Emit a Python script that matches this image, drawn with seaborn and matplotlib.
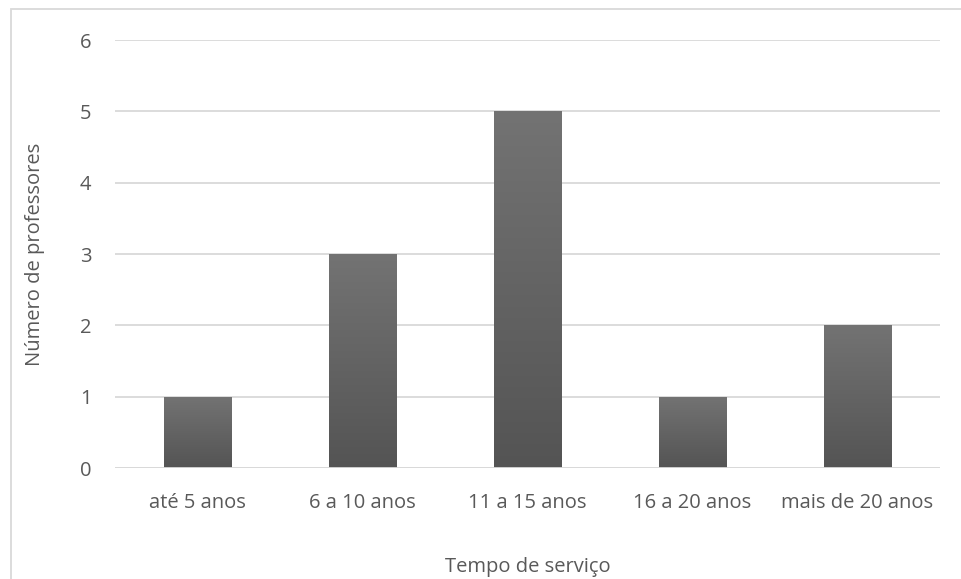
import numpy as np
import pandas as pd
import matplotlib
matplotlib.use("Agg")
import matplotlib.pyplot as plt
from matplotlib.colors import LinearSegmentedColormap
from matplotlib.patches import Rectangle
import seaborn as sns

categorias = ["até 5 anos", "6 a 10 anos", "11 a 15 anos", "16 a 20 anos", "mais de 20 anos"]
professores = [1, 3, 5, 1, 2]
yticks = [0, 1, 2, 3, 4, 5, 6]

df = pd.DataFrame({"Tempo de serviço": categorias, "Número de professores": professores})

sns.set_theme(style="white")
plt.rcParams["font.family"] = ["Open Sans", "DejaVu Sans"]

text_color = "#595959"
grid_color = "#d9d9d9"
fs = 14.5

fig = plt.figure(figsize=(9.61, 5.79), dpi=100)
ax = fig.add_axes([115 / 961, 111 / 579, 825 / 961, 428 / 579])

sns.barplot(data=df, x="Tempo de serviço", y="Número de professores",
            color="#636363", width=0.41, ax=ax, zorder=3)

# vertical gradient fill for each bar
cmap = LinearSegmentedColormap.from_list("bar_grad", ["#545454", "#737373"])
grad = np.linspace(0, 1, 256).reshape(-1, 1)
for p in ax.patches:
    x0, y0 = p.get_x(), p.get_y()
    w, h = p.get_width(), p.get_height()
    im = ax.imshow(grad, cmap=cmap, origin="lower", aspect="auto",
                   extent=(x0, x0 + w, y0, y0 + h), zorder=4)
    im.set_clip_path(p)
    p.set_edgecolor("none")

ax.set_xlim(-0.5, len(categorias) - 0.5)
ax.set_ylim(0, 6)
ax.set_yticks(yticks)
ax.set_yticklabels([str(v) for v in yticks])
ax.yaxis.grid(True, color=grid_color, linewidth=1.3, zorder=0)
ax.set_axisbelow(True)
for s in ax.spines.values():
    s.set_visible(False)
ax.axhline(0, color=grid_color, linewidth=1.3, zorder=5)

ax.tick_params(axis="both", length=0, labelsize=fs, colors=text_color)
ax.tick_params(axis="y", pad=17)
ax.tick_params(axis="x", pad=18)
ax.set_xlabel("Tempo de serviço", fontsize=fs, color=text_color, labelpad=32)
ax.set_ylabel("Número de professores", fontsize=fs, color=text_color, labelpad=25)

# chart frame
fig.patches.append(Rectangle((11 / 961, -0.05), 1.2, (579 - 9) / 579 + 0.05,
                             transform=fig.transFigure, fill=False,
                             edgecolor="#d9d9d9", linewidth=1.3))

fig.savefig("out.png", dpi=100, facecolor="white")
